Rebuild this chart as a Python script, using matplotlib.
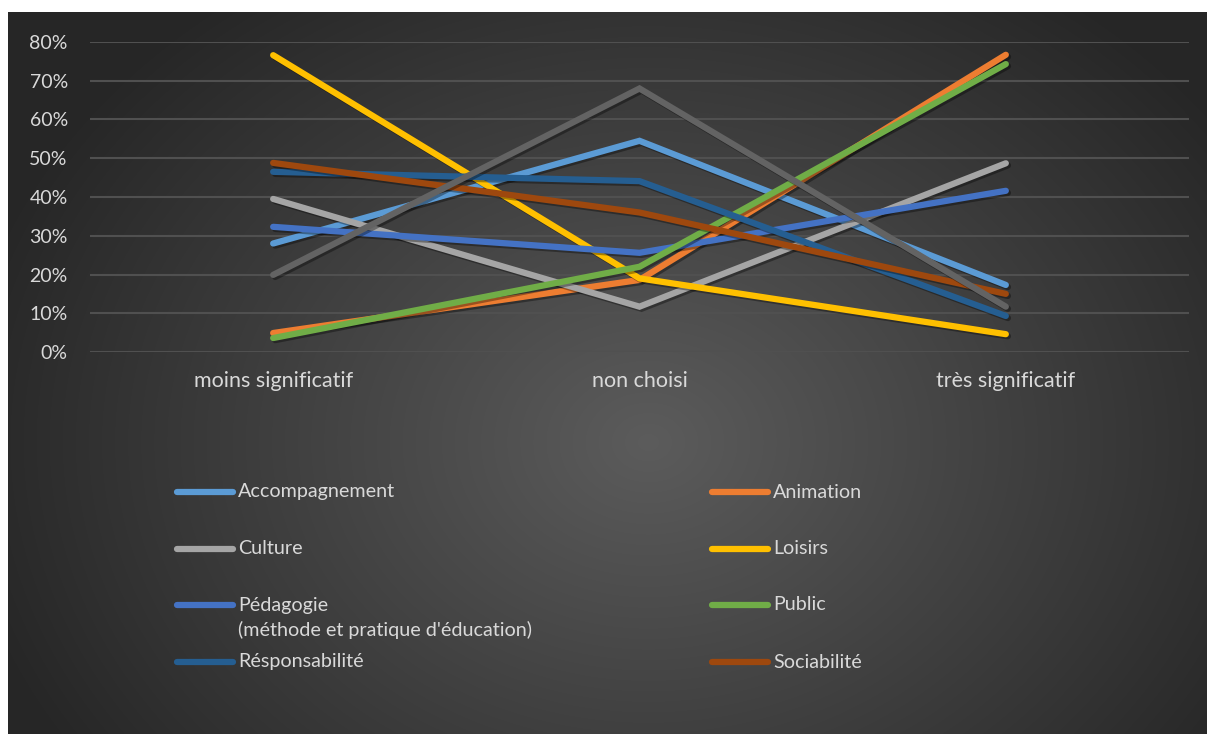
import matplotlib.pyplot as plt
import matplotlib.patheffects as pe
from matplotlib.lines import Line2D
import numpy as np

plt.rcParams['font.family'] = ['Lato', 'DejaVu Sans']

categories = ['moins significatif', 'non choisi', 'très significatif']

series_names = ['Accompagnement', 'Animation', 'Culture', 'Loisirs',
                'Pédagogie\n(méthode et pratique d\'éducation)', 'Public',
                'Résponsabilité', 'Sociabilité', '']

accompagnement = [0.28, 0.545, 0.173]
animation = [0.049, 0.186, 0.767]
culture = [0.395, 0.117, 0.487]
loisirs = [0.766, 0.19, 0.046]
pedagogie = [0.323, 0.256, 0.416]
public = [0.036, 0.22, 0.743]
responsabilite = [0.465, 0.441, 0.093]
sociabilite = [0.488, 0.36, 0.15]
autre = [0.199, 0.68, 0.117]

values = [accompagnement, animation, culture, loisirs, pedagogie,
          public, responsabilite, sociabilite, autre]

colors = ['#5B9BD5', '#ED7D31', '#A5A5A5', '#FFC000', '#4472C4',
          '#70AD47', '#255E91', '#9E480E', '#636363']

text_color = '#d9d9d9'
W, H = 1207, 734

fig = plt.figure(figsize=(W / 100, H / 100), dpi=100)
fig.patch.set_facecolor('white')

# dark radial background of the chart panel
bg = fig.add_axes([8 / W, 0, 1199 / W, 722 / H])
yy, xx = np.mgrid[0:722, 0:1199]
r = np.sqrt(((xx - 640) / 700.0) ** 2 + ((yy - 430) / 560.0) ** 2)
r = np.clip(r, 0, 1)
shade = 0.36 - (0.36 - 0.15) * r
bg.imshow(np.dstack([shade, shade, shade]), aspect='auto', interpolation='bilinear')
bg.axis('off')

ax = fig.add_axes([90 / W, 1 - 352 / H, 1099 / W, 310 / H])
ax.patch.set_alpha(0)

x = np.arange(len(categories))
shadow = [pe.SimpleLineShadow(offset=(1.5, -1.5), alpha=0.35, shadow_color='black'), pe.Normal()]
for vals, c in zip(values, colors):
    ax.plot(x, vals, color=c, lw=4.5, solid_capstyle='round', solid_joinstyle='miter',
            clip_on=False, zorder=3, path_effects=shadow)

ax.set_xlim(-0.5, 2.5)
ax.set_ylim(0, 0.8)
ax.set_yticks(np.arange(0, 0.81, 0.1))
ax.set_yticklabels(['%d%%' % round(v * 100) for v in np.arange(0, 0.81, 0.1)])
ax.set_xticks(x)
ax.set_xticklabels(categories)
ax.tick_params(axis='both', length=0, labelcolor=text_color)
ax.tick_params(axis='y', pad=16, labelsize=14)
ax.tick_params(axis='x', pad=14, labelsize=15.5)
ax.grid(axis='y', color='#505050', lw=1.5)
ax.set_axisbelow(True)
for s in ax.spines.values():
    s.set_visible(False)

# legend, two columns, row by row as in the original
col_x = [177, 712]
row_y = [492, 549, 605, 662]
for i in range(8):
    hx = col_x[i % 2]
    hy = row_y[i // 2]
    fy = 1 - hy / H
    fig.add_artist(Line2D([hx / W, (hx + 56) / W], [fy, fy], color=colors[i], lw=4.5,
                          solid_capstyle='round', transform=fig.transFigure))
    for k, line in enumerate(series_names[i].split('\n')):
        fig.text((hx + 61) / W, 1 - (hy + k * 25) / H, line, color=text_color,
                 fontsize=14.2, va='center', ha='left')

fig.savefig('out.png', dpi=100)
